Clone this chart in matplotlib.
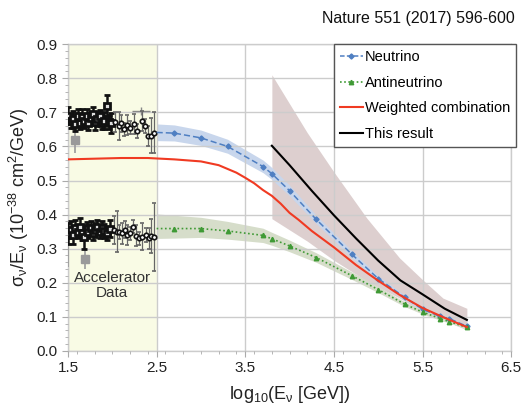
import matplotlib
matplotlib.use("Agg")
import matplotlib.pyplot as plt
from matplotlib.lines import Line2D
from matplotlib.ticker import MultipleLocator

plt.rcParams['font.family'] = ['Liberation Sans', 'DejaVu Sans']
plt.rcParams['mathtext.default'] = 'regular'

# ---------------- data ----------------
nu_x = [2.5, 2.7, 3.0, 3.3, 3.7, 3.8, 4.0, 4.3, 4.7, 5.0, 5.3, 5.5, 5.7, 5.8, 6.0]
nu_y = [0.641, 0.639, 0.625, 0.600, 0.541, 0.520, 0.470, 0.386, 0.284, 0.212, 0.157, 0.122, 0.101, 0.095, 0.072]
nu_lo = [0.617, 0.616, 0.603, 0.580, 0.523, 0.503, 0.455, 0.374, 0.274, 0.204, 0.151, 0.117, 0.097, 0.091, 0.069]
nu_hi = [0.666, 0.663, 0.648, 0.621, 0.560, 0.538, 0.486, 0.398, 0.294, 0.220, 0.163, 0.127, 0.105, 0.099, 0.075]

anu_x = [2.5, 2.7, 3.0, 3.3, 3.7, 3.8, 4.0, 4.3, 4.7, 5.0, 5.3, 5.5, 5.7, 5.8, 6.0]
anu_y = [0.359, 0.359, 0.359, 0.352, 0.339, 0.329, 0.308, 0.274, 0.221, 0.180, 0.137, 0.114, 0.095, 0.086, 0.069]
anu_lo = [0.330, 0.331, 0.333, 0.328, 0.318, 0.310, 0.291, 0.260, 0.210, 0.171, 0.130, 0.108, 0.090, 0.082, 0.065]
anu_hi = [0.402, 0.398, 0.392, 0.380, 0.360, 0.348, 0.325, 0.288, 0.232, 0.189, 0.144, 0.120, 0.100, 0.090, 0.073]

comb_x = [1.5, 1.8, 2.1, 2.4, 2.7, 3.0, 3.2, 3.4, 3.5, 3.6, 3.7, 3.8, 3.9, 4.0, 4.1, 4.25, 4.5, 4.75, 5.0, 5.25, 5.5, 5.75, 6.0]
comb_y = [0.562, 0.564, 0.566, 0.566, 0.562, 0.556, 0.545, 0.523, 0.508, 0.492, 0.472, 0.455, 0.432, 0.405, 0.385, 0.352, 0.304, 0.252, 0.206, 0.163, 0.126, 0.097, 0.070]

res_x = [3.8, 4.0, 4.25, 4.5, 4.75, 5.0, 5.25, 5.5, 5.75, 6.0]
res_y = [0.602, 0.545, 0.470, 0.398, 0.330, 0.265, 0.207, 0.166, 0.124, 0.091]

res_band_x = [3.8, 4.2, 4.5, 4.87, 5.24, 5.5, 5.73, 6.0]
res_band_hi = [0.81, 0.64, 0.525, 0.39, 0.273, 0.209, 0.155, 0.125]
res_band_lo = [0.388, 0.322, 0.266, 0.205, 0.155, 0.115, 0.090, 0.062]

# accelerator data (neutrino)
acc_nu_x = [1.50, 1.53, 1.56, 1.58, 1.61, 1.63, 1.66, 1.68, 1.71, 1.73, 1.76, 1.78, 1.81, 1.83,
            1.86, 1.88, 1.91, 1.94, 1.96, 1.99, 2.03, 2.07, 2.10, 2.13, 2.17, 2.20, 2.25, 2.28,
            2.33, 2.37, 2.40, 2.44, 2.47]
acc_nu_y = [0.690, 0.675, 0.680, 0.665, 0.690, 0.670, 0.685, 0.675, 0.690, 0.668, 0.682, 0.695, 0.672, 0.680,
            0.688, 0.670, 0.676, 0.720, 0.672, 0.668, 0.672, 0.660, 0.668, 0.650, 0.663, 0.655, 0.665, 0.645,
            0.675, 0.660, 0.630, 0.632, 0.640]
acc_nu_err = [0.025, 0.020, 0.025, 0.020, 0.020, 0.020, 0.025, 0.020, 0.020, 0.020, 0.020, 0.020, 0.025, 0.020,
              0.020, 0.020, 0.025, 0.030, 0.020, 0.030, 0.030, 0.040, 0.025, 0.020, 0.030, 0.020, 0.030, 0.020,
              0.030, 0.020, 0.030, 0.050, 0.060]
acc_nu_hx = [2.32]
acc_nu_hy = [0.705]
acc_nu_hxerr = [0.10]
acc_nu_grey_x = [1.58]
acc_nu_grey_y = [0.620]
acc_nu_grey_err = [0.040]

# accelerator data (antineutrino)
acc_anu_x = [1.50, 1.53, 1.56, 1.58, 1.61, 1.63, 1.66, 1.68, 1.71, 1.73, 1.76, 1.78, 1.81, 1.83,
             1.86, 1.88, 1.91, 1.94, 1.97, 2.02, 2.05, 2.08, 2.11, 2.14, 2.17, 2.20, 2.23, 2.27,
             2.30, 2.34, 2.38, 2.41, 2.44, 2.47]
acc_anu_y = [0.345, 0.355, 0.340, 0.360, 0.350, 0.365, 0.345, 0.335, 0.358, 0.350, 0.362, 0.345, 0.355, 0.365,
             0.350, 0.360, 0.352, 0.345, 0.358, 0.355, 0.350, 0.348, 0.345, 0.355, 0.340, 0.345, 0.365, 0.338,
             0.330, 0.335, 0.340, 0.330, 0.338, 0.335]
acc_anu_err = [0.030, 0.025, 0.025, 0.025, 0.020, 0.025, 0.020, 0.035, 0.020, 0.020, 0.020, 0.020, 0.020, 0.020,
               0.020, 0.020, 0.020, 0.020, 0.025, 0.040, 0.060, 0.020, 0.030, 0.025, 0.030, 0.020, 0.020, 0.030,
               0.020, 0.040, 0.020, 0.030, 0.050, 0.100]
acc_anu_grey_x = [1.69, 1.50]
acc_anu_grey_y = [0.270, 0.285]
acc_anu_grey_err = [0.030, 0.040]

x_ticks = [1.5, 2.5, 3.5, 4.5, 5.5, 6.5]
y_ticks = [0.0, 0.1, 0.2, 0.3, 0.4, 0.5, 0.6, 0.7, 0.8, 0.9]

# ---------------- figure ----------------
fig = plt.figure(figsize=(5.27, 4.09), dpi=100)
ax = fig.add_axes([0.129, 0.142, 0.841, 0.750])

ax.set_xlim(1.5, 6.5)
ax.set_ylim(0.0, 0.9)

# accelerator region
ax.axvspan(1.5, 2.5, color='#f9fbe5', zorder=0.5, lw=0)
ax.text(2.0, 0.215, 'Accelerator', ha='center', va='center', fontsize=11, color='#333333', zorder=5)
ax.text(2.0, 0.17, 'Data', ha='center', va='center', fontsize=11, color='#333333', zorder=5)

# bands
ax.fill_between(res_band_x, res_band_lo, res_band_hi, color='#ddcfcf', lw=0, zorder=1)
ax.fill_between(nu_x, nu_lo, nu_hi, color='#c8d6ec', lw=0, zorder=1.1)
ax.fill_between(anu_x, anu_lo, anu_hi, color='#d6ddca', lw=0, zorder=1.1)

# grid
ax.set_axisbelow(False)
ax.grid(True, which='major', color='#cccccc', lw=1.0, zorder=1.5)
for s in ax.spines.values():
    s.set_color('#cccccc')
    s.set_linewidth(1.0)

# accelerator points
ax.errorbar(acc_nu_grey_x, acc_nu_grey_y, yerr=acc_nu_grey_err, fmt='s', ms=6, color='#9a9a9a',
            mec='#9a9a9a', mfc='#9a9a9a', elinewidth=1.2, capsize=0, zorder=3)
ax.errorbar(acc_anu_grey_x[:1], acc_anu_grey_y[:1], yerr=acc_anu_grey_err[:1], fmt='s', ms=6, color='#9a9a9a',
            mec='#9a9a9a', mfc='#9a9a9a', elinewidth=1.2, capsize=0, zorder=3)
ax.errorbar(acc_anu_grey_x[1:], acc_anu_grey_y[1:], yerr=acc_anu_grey_err[1:], fmt='none', color='#9a9a9a',
            elinewidth=1.2, capsize=0, zorder=3)
ax.errorbar(acc_nu_hx, acc_nu_hy, xerr=acc_nu_hxerr, yerr=[0.012], fmt='none', color='#888888',
            elinewidth=1.0, capsize=0, zorder=3)

nd = 20
ax.errorbar(acc_nu_x[:nd], acc_nu_y[:nd], yerr=acc_nu_err[:nd], fmt='s', ms=4.5, mfc='#dddddd', mec='#111111',
            mew=2.0, color='#111111', elinewidth=1.8, capsize=2, capthick=1.5, zorder=4)
ax.errorbar(acc_nu_x[nd:], acc_nu_y[nd:], yerr=acc_nu_err[nd:], fmt='o', ms=3.2, mfc='white', mec='#111111',
            mew=1.2, color='#666666', elinewidth=0.9, capsize=1.5, zorder=4)
na = 19
ax.errorbar(acc_anu_x[:na], acc_anu_y[:na], yerr=acc_anu_err[:na], fmt='s', ms=4.5, mfc='#dddddd', mec='#111111',
            mew=2.0, color='#111111', elinewidth=1.8, capsize=2, capthick=1.5, zorder=4)
ax.errorbar(acc_anu_x[na:], acc_anu_y[na:], yerr=acc_anu_err[na:], fmt='o', ms=3.2, mfc='white', mec='#111111',
            mew=1.2, color='#666666', elinewidth=0.9, capsize=1.5, zorder=4)

# model curves
blue = '#4f7fc2'
green = '#3f9a35'
ax.plot(nu_x, nu_y, color=blue, ls=(0, (4, 2)), lw=1.1, marker='D', ms=2.6,
        markevery=list(range(1, len(nu_x))), zorder=5)
ax.plot(anu_x, anu_y, color=green, ls=(0, (1, 1.5)), lw=1.2, marker='^', ms=3.2,
        markevery=list(range(1, len(anu_x))), zorder=5)
ax.plot(comb_x, comb_y, color='#f03a22', lw=1.5, zorder=6)
ax.plot(res_x, res_y, color='black', lw=1.5, zorder=7)

# ticks
ax.set_xticks(x_ticks)
ax.set_yticks(y_ticks)
ax.set_yticklabels([f'{v:.1f}' for v in y_ticks])
ax.set_xticklabels([f'{v:.1f}' for v in x_ticks])
ax.xaxis.set_minor_locator(MultipleLocator(0.2))
ax.yaxis.set_minor_locator(MultipleLocator(0.02))
ax.tick_params(axis='both', which='major', labelsize=11, color='#aaaaaa', length=4, labelcolor='#222222')
ax.tick_params(axis='both', which='minor', color='#aaaaaa', length=2.5)

ax.set_xlabel(r'log$_{10}$(E$_\nu$ [GeV])', fontsize=13, color='#222222', labelpad=6)
ax.set_ylabel(r'$\sigma_\nu$/E$_\nu$ (10$^{-38}$ cm$^2$/GeV)', fontsize=13, color='#222222', labelpad=4)

fig.text(0.977, 0.954, 'Nature 551 (2017) 596-600', ha='right', va='center', fontsize=11.5, color='#111111')

handles = [
    Line2D([], [], color=blue, ls=(0, (3, 1.5)), lw=1.1, marker='D', ms=2.6),
    Line2D([], [], color=green, ls=(0, (1, 1.5)), lw=1.2, marker='^', ms=3.2),
    Line2D([], [], color='#f03a22', lw=1.5),
    Line2D([], [], color='black', lw=1.5),
]
leg = ax.legend(handles, ['Neutrino', 'Antineutrino', 'Weighted combination', 'This result'],
                loc='upper right', bbox_to_anchor=(1.01, 1.0), borderaxespad=0, fontsize=10.5,
                fancybox=False, framealpha=1, edgecolor='#555555', handlelength=1.6,
                handletextpad=0.1, labelspacing=0.8, borderpad=0.4)
leg.get_frame().set_linewidth(1.0)
leg.set_zorder(10)

fig.savefig('out.png', dpi=100)
